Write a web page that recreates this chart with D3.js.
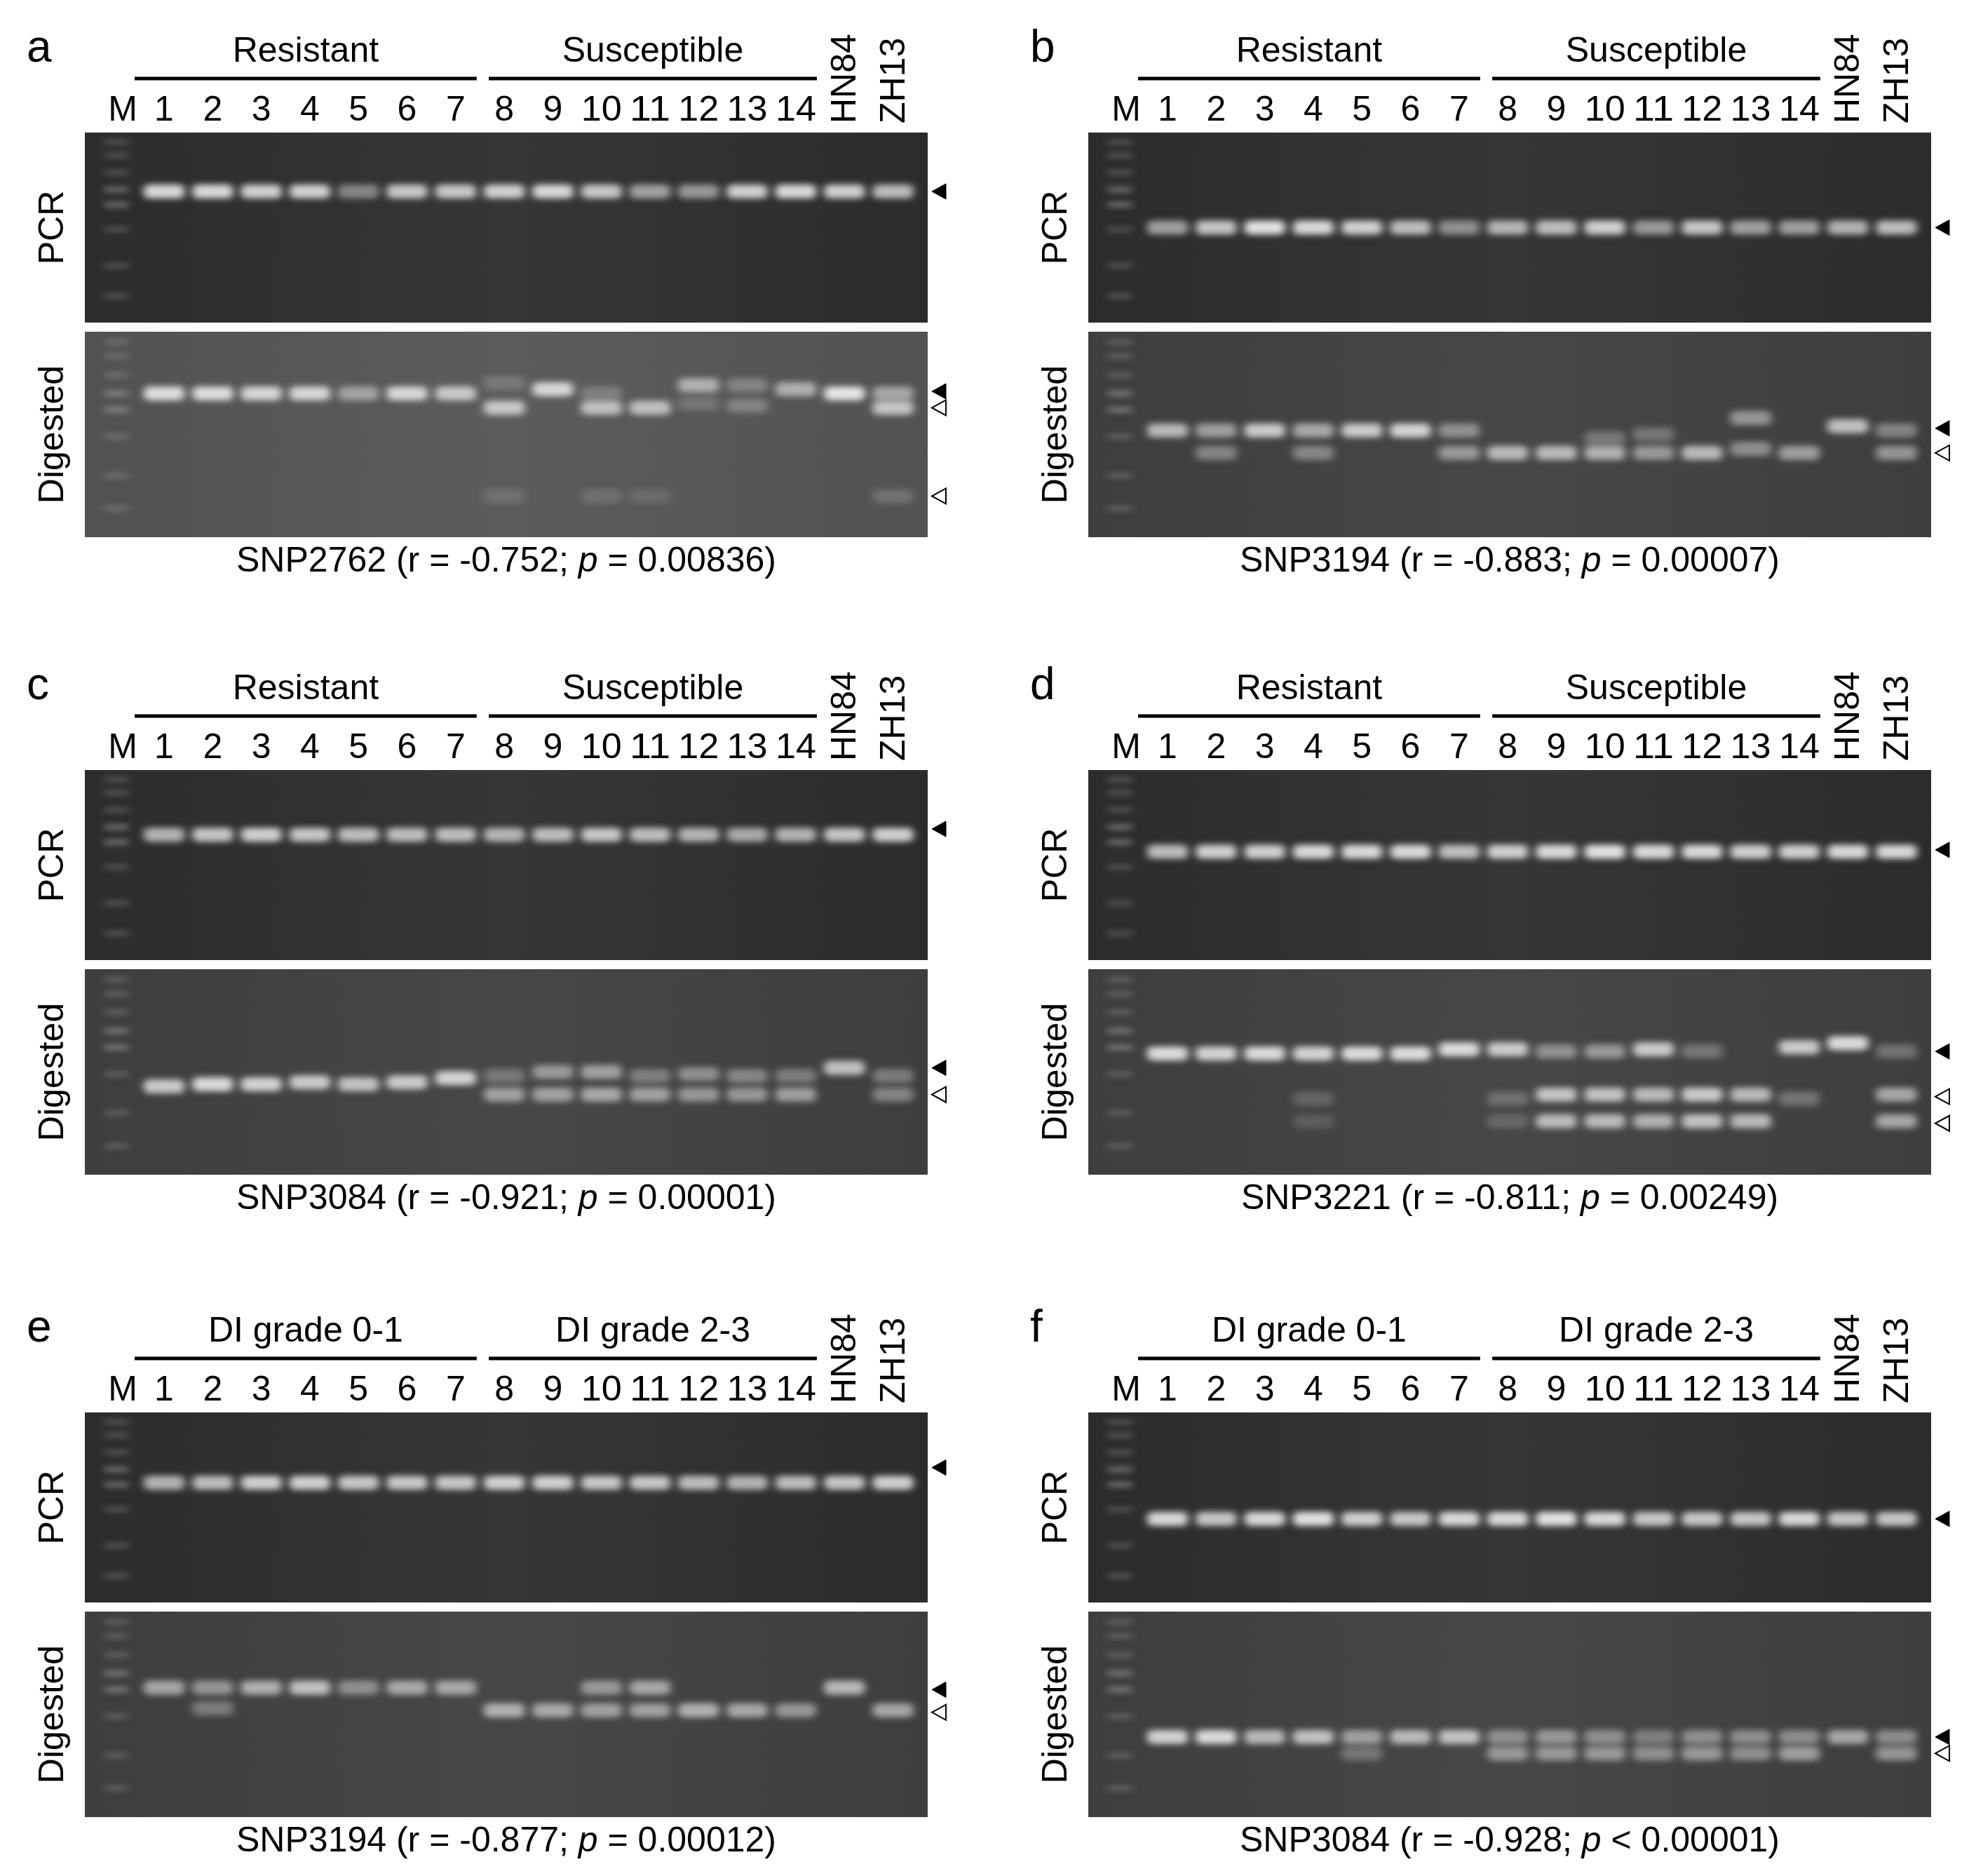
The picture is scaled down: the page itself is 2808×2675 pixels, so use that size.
<!DOCTYPE html>
<html><head><meta charset="utf-8">
<script src="https://cdn.jsdelivr.net/npm/d3@7"></script>
<style>body{margin:0;background:#fff}</style></head>
<body><svg id="c" width="2808" height="2675"></svg>
<script>
const lanes = ["M","1","2","3","4","5","6","7","8","9","10","11","12","13","14","HN84","ZH13"];
const panelLetters = ["a","b","c","d","e","f"];
const groupLabels = [["Resistant","Susceptible"],["Resistant","Susceptible"],["Resistant","Susceptible"],["Resistant","Susceptible"],["DI grade 0-1","DI grade 2-3"],["DI grade 0-1","DI grade 2-3"]];
const captionMarker = ["SNP2762","SNP3194","SNP3084","SNP3221","SNP3194","SNP3084"];
const captionR = ["-0.752","-0.883","-0.921","-0.811","-0.877","-0.928"];
const captionP = ["= 0.00836","= 0.00007","= 0.00001","= 0.00249","= 0.00012","< 0.00001"];
const pcrY = [0.31,0.50,0.34,0.43,0.37,0.56];
const pcrI = [
 [0.9,0.9,0.85,0.85,0.45,0.8,0.8,0.85,0.9,0.8,0.6,0.55,0.85,0.9,0.85,0.75],
 [0.6,0.8,0.95,0.9,0.85,0.75,0.5,0.7,0.75,0.85,0.55,0.8,0.6,0.6,0.7,0.75],
 [0.7,0.8,0.85,0.8,0.75,0.75,0.75,0.7,0.75,0.8,0.75,0.7,0.65,0.7,0.8,0.85],
 [0.75,0.85,0.85,0.9,0.9,0.9,0.75,0.85,0.9,0.95,0.9,0.9,0.85,0.85,0.9,0.9],
 [0.7,0.75,0.85,0.85,0.8,0.8,0.8,0.85,0.85,0.8,0.8,0.75,0.7,0.75,0.8,0.85],
 [0.9,0.8,0.9,0.95,0.85,0.8,0.9,0.9,0.95,0.9,0.8,0.8,0.8,0.9,0.8,0.8]];
const digBands = [
 [[[0.30,0.9]],[[0.30,0.9]],[[0.30,0.85]],[[0.30,0.85]],[[0.30,0.5]],[[0.30,0.85]],[[0.30,0.75]],[[0.25,0.2],[0.37,0.75],[0.80,0.15]],[[0.28,0.85]],[[0.30,0.25],[0.37,0.7],[0.80,0.15]],[[0.37,0.7],[0.80,0.12]],[[0.26,0.6],[0.35,0.2]],[[0.26,0.3],[0.36,0.3]],[[0.28,0.6]],[[0.30,0.95]],[[0.30,0.55],[0.37,0.75],[0.80,0.2]]],
 [[[0.48,0.7]],[[0.48,0.55],[0.59,0.4]],[[0.48,0.8]],[[0.48,0.6],[0.59,0.4]],[[0.48,0.8]],[[0.48,0.85]],[[0.48,0.45],[0.59,0.5]],[[0.59,0.7]],[[0.59,0.7]],[[0.52,0.3],[0.59,0.65]],[[0.50,0.3],[0.59,0.5]],[[0.59,0.7]],[[0.42,0.5],[0.57,0.45]],[[0.59,0.55]],[[0.46,0.75]],[[0.48,0.4],[0.59,0.5]]],
 [[[0.57,0.8]],[[0.56,0.9]],[[0.56,0.85]],[[0.55,0.8]],[[0.56,0.75]],[[0.55,0.8]],[[0.53,0.85]],[[0.52,0.3],[0.61,0.55]],[[0.50,0.5],[0.61,0.55]],[[0.50,0.55],[0.61,0.6]],[[0.52,0.35],[0.61,0.55]],[[0.51,0.45],[0.61,0.5]],[[0.52,0.4],[0.61,0.5]],[[0.52,0.35],[0.61,0.55]],[[0.48,0.75]],[[0.52,0.35],[0.61,0.4]]],
 [[[0.41,0.9]],[[0.41,0.85]],[[0.41,0.9]],[[0.41,0.85],[0.63,0.2],[0.74,0.15]],[[0.41,0.9]],[[0.41,0.9]],[[0.39,0.9]],[[0.39,0.8],[0.63,0.25],[0.74,0.2]],[[0.40,0.45],[0.61,0.75],[0.74,0.7]],[[0.40,0.5],[0.61,0.75],[0.74,0.7]],[[0.39,0.8],[0.61,0.7],[0.74,0.65]],[[0.40,0.3],[0.61,0.8],[0.74,0.75]],[[0.61,0.7],[0.74,0.7]],[[0.38,0.8],[0.63,0.3]],[[0.36,0.9]],[[0.40,0.3],[0.61,0.6],[0.74,0.6]]],
 [[[0.37,0.6]],[[0.37,0.5],[0.47,0.35]],[[0.37,0.65]],[[0.37,0.75]],[[0.37,0.45]],[[0.37,0.6]],[[0.37,0.6]],[[0.48,0.65]],[[0.48,0.6]],[[0.37,0.5],[0.48,0.55]],[[0.37,0.6],[0.48,0.55]],[[0.48,0.65]],[[0.48,0.6]],[[0.48,0.5]],[[0.37,0.7]],[[0.48,0.6]]],
 [[[0.61,0.85]],[[0.61,0.9]],[[0.61,0.7]],[[0.61,0.75]],[[0.61,0.55],[0.69,0.3]],[[0.61,0.7]],[[0.61,0.75]],[[0.61,0.45],[0.69,0.5]],[[0.61,0.5],[0.69,0.5]],[[0.61,0.45],[0.69,0.5]],[[0.61,0.35],[0.69,0.45]],[[0.61,0.45],[0.69,0.5]],[[0.61,0.45],[0.69,0.45]],[[0.61,0.45],[0.69,0.55]],[[0.61,0.6]],[[0.61,0.45],[0.69,0.5]]]];
const pcrArrow = [[0.31],[0.50],[0.31],[0.42],[0.29],[0.56]];
const digFilled = [[0.29],[0.47],[0.48],[0.40],[0.38],[0.61]];
const digOpen = [[0.37,0.80],[0.59],[0.61],[0.62,0.75],[0.49],[0.69]];
const ladder = [0.05,0.12,0.21,0.30,0.38,0.51,0.70,0.86];

const svg = d3.select("#c");
const defs = svg.append("defs");
const f = defs.append("filter").attr("id","blur").attr("x","-40%").attr("y","-150%").attr("width","180%").attr("height","400%");
f.append("feGaussianBlur").attr("stdDeviation","6 4.5");

const colX = [0, 1431];
const rowY = [0, 909, 1825];
const gelW = 1202, pcrH = 271, digH = 293, gelTop = 189, digTop = 473;
const font = "Liberation Sans, Arial, sans-serif";
const x = d3.scaleLinear().domain([1,16]).range([113, 113+15*69.3]);
const xM = 42;

panelLetters.forEach((L, p) => {
  const g = svg.append("g").attr("transform", `translate(${colX[p%2]},${rowY[Math.floor(p/2)]})`);
  const gx = 121;
  g.append("text").attr("x", 38).attr("y", 88).attr("font-size", 64).attr("font-family", font).text(L);
  const grp = [[x(1)-42+gx, x(7)+30+gx], [x(8)-22+gx, x(14)+30+gx]];
  grp.forEach((r, i) => {
    g.append("line").attr("x1", r[0]).attr("x2", r[1]).attr("y1", 112).attr("y2", 112).attr("stroke", "#000").attr("stroke-width", 5);
    g.append("text").attr("x", (r[0]+r[1])/2).attr("y", 88).attr("text-anchor", "middle").attr("font-size", 50).attr("font-family", font).text(groupLabels[p][i]);
  });
  lanes.forEach((ln, i) => {
    const cx = gx + (i === 0 ? xM + 12 : x(i));
    if (i < 15) {
      g.append("text").attr("x", cx).attr("y", 172).attr("text-anchor", "middle").attr("font-size", 50).attr("font-family", font)
        .attr("textLength", ln.length > 1 ? 58 : null).attr("lengthAdjust","spacingAndGlyphs").text(ln);
    } else {
      g.append("text").attr("transform", `translate(${cx+16},176) rotate(-90)`).attr("font-size", 50).attr("font-family", font).text(ln);
    }
  });
  [[gelTop, pcrH, "#2c2c2c", "#363636"], [digTop, digH, p===0?"#525252":"#3e3e3e", p===0?"#5c5c5c":"#474747"]].forEach(([ty, h, c1, c2], k) => {
    const gid = `bg${p}${k}`;
    const lg = defs.append("linearGradient").attr("id", gid).attr("x1",0).attr("x2",1);
    lg.append("stop").attr("offset","0").attr("stop-color", c1);
    lg.append("stop").attr("offset","0.5").attr("stop-color", c2);
    lg.append("stop").attr("offset","1").attr("stop-color", c1);
    const gg = g.append("g").attr("transform", `translate(${gx},${ty})`);
    gg.append("rect").attr("width", gelW).attr("height", h).attr("fill", `url(#${gid})`);
    const yS = d3.scaleLinear().domain([0,1]).range([0,h]);
    gg.selectAll(".lad").data(ladder).join("rect").attr("x", xM-14).attr("y", d => yS(d)-3).attr("width", 34).attr("height", 6)
      .attr("fill", "#bbb").attr("opacity", (d,i)=> i===3||i===4?0.6:0.35).attr("filter","url(#blur)");
    let bands = [];
    if (k === 0) bands = pcrI[p].map((v, i) => ({l: i+1, y: pcrY[p], v}));
    else digBands[p].forEach((arr, i) => arr.forEach(([yy, v]) => bands.push({l: i+1, y: yy, v})));
    gg.selectAll(".band").data(bands).join("rect").attr("x", d => x(d.l)-29).attr("y", d => yS(d.y)-10).attr("width", 58).attr("height", 20)
      .attr("rx", 7).attr("fill", "#f4f4f4").attr("opacity", d => d.v*0.95).attr("filter", "url(#blur)");
    const arr = k === 0 ? pcrArrow[p].map(v=>[v,1]) : digFilled[p].map(v=>[v,1]).concat(digOpen[p].map(v=>[v,0]));
    arr.forEach(([yy, fill]) => {
      const ay = yS(yy), ax = gelW + 6;
      gg.append("path").attr("d", `M${ax},${ay} L${ax+20},${ay-11} L${ax+20},${ay+11} Z`)
        .attr("fill", fill ? "#000" : "#fff").attr("stroke", "#000").attr("stroke-width", fill?1:2);
    });
  });
  g.append("text").attr("transform", `translate(90,${gelTop+pcrH/2}) rotate(-90)`).attr("text-anchor","middle").attr("font-size", 50).attr("font-family", font).text("PCR");
  g.append("text").attr("transform", `translate(90,${digTop+digH/2}) rotate(-90)`).attr("text-anchor","middle").attr("font-size", 50).attr("font-family", font).text("Digested");
  const cap = g.append("text").attr("x", gx + gelW/2).attr("y", 815).attr("text-anchor","middle").attr("font-size", 50).attr("font-family", font);
  cap.append("tspan").text(`${captionMarker[p]} (r = ${captionR[p]}; `);
  cap.append("tspan").attr("font-style","italic").text("p");
  cap.append("tspan").text(` ${captionP[p]})`);
});
</script></body></html>
